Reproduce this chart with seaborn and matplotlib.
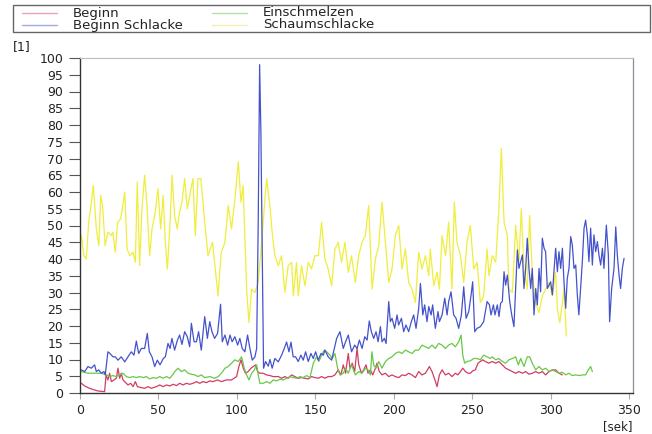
import numpy as np
import pandas as pd
import matplotlib
matplotlib.use("Agg")
import matplotlib.pyplot as plt
import seaborn as sns
from matplotlib.lines import Line2D
from matplotlib.patches import Rectangle

# ---------------- data ----------------
labels = ["Beginn", "Beginn Schlacke", "Einschmelzen", "Schaumschlacke"]

t_beginn = [0.8, 3, 5.1, 7.2, 9.3, 11.5, 15.7, 16.6, 17.8, 18.9, 20, 21.7, 23.2, 24.2, 25.3, 26.3, 27.4, 28.5,
            30.6, 32.3, 33.8, 35.3, 36.6, 39.1, 41.2, 43.4, 45.5, 48.7, 50.8, 53, 55.1, 57.2, 59.4, 61.5, 63.5,
            65.7, 67.8, 69.9, 72.1, 74.2, 76.3, 78.4, 80.6, 82.7, 84.8, 87.6, 90.2, 93.4, 96.6, 99.8, 101.3,
            102.6, 104.1, 105.5, 107.2, 109, 110.4, 112, 113.2, 114.7, 116.8, 118.9, 121.1, 123.2, 126.4, 128.5,
            130.6, 132.7, 134.9, 137, 139.1, 141.2, 143.4, 145.5, 147.6, 149.7, 151.9, 154, 156.1, 158.2, 160.4,
            162.5, 164.6, 166.3, 167.8, 169.3, 171, 172.1, 173.5, 175.1, 176.6, 177.7, 179.4, 180.8, 182.3, 183.6,
            185.1, 186.6, 188.3, 189.3, 190.8, 192.5, 194.6, 196.8, 198.9, 201, 203.2, 205.3, 207.4, 209.5, 211.6,
            213.8, 215.9, 218, 220.2, 222.7, 224.4, 225.9, 227.6, 229.1, 230.8, 232.9, 235, 237.1, 239.3, 240.9,
            242.5, 244, 245.7, 247.4, 248.8, 250.3, 252, 253.7, 255.2, 256.7, 258.4, 260.5, 262.8, 265, 267, 269.2,
            271.3, 273.4, 275.6, 277.7, 279.8, 282, 284.1, 286.2, 288.3, 290.5, 292.6, 294.7, 296.8, 299, 301.1,
            303.2, 305.3, 307.5]
v_beginn = [2.9, 2.1, 1.6, 1.2, 0.9, 0.6, 0.4, 5.4, 3.9, 5.9, 3.4, 3.9, 4.4, 7.4, 4.4, 5.9, 3.9, 3.4,
            2.4, 2.9, 1.9, 3.4, 1.9, 1.6, 1.4, 1.9, 1.4, 1.9, 2.4, 1.9, 2.4, 2.1, 2.6, 2.2, 2.9,
            2.4, 2.9, 2.6, 2.9, 3.4, 2.9, 3.4, 3.1, 3.6, 3.4, 3.9, 3.4, 3.9, 3.9, 4.9, 7.9,
            9.9, 7.4, 5.9, 6.4, 7.4, 7.9, 8.4, 6.4, 5.9, 5.9, 5.4, 5.2, 4.9, 4.9, 4.4,
            4.9, 4.4, 5.4, 4.9, 4.4, 4.6, 4.4, 4.2, 4.9, 4.6, 4.4, 4.9, 4.4, 4.9, 4.9,
            5.4, 6.9, 5.4, 8.4, 5.9, 11.8, 7.4, 8.9, 6.4, 13.3, 8.4, 5.9, 6.9, 8.4, 5.9,
            6.9, 5.4, 7.4, 8.9, 6.4, 5.4, 5.9, 4.9, 5.4, 4.9, 4.6, 5.4, 5.2, 5.9, 5.4,
            4.6, 6.4, 5.4, 5.9, 7.9, 6.4, 4.4, 1.9, 5.4, 6.9, 5.4, 5.9, 4.9, 5.9, 5.4,
            6.4, 7.4, 6.4, 5.9, 5.9, 6.6, 6.9, 8.9, 9.4, 9.9, 9.4, 8.9, 9.4, 8.9, 9.4, 8.4,
            7.4, 6.9, 6.4, 5.9, 6.4, 5.9, 6.4, 5.6, 5.9, 6.4, 5.9, 6.4, 5.4, 6.4, 6.9,
            6.9, 5.9, 5.4]

t_schlacke = [0.8, 3.0, 5.1, 7.2, 9.3, 10.4, 11.9, 13.6, 15.3, 16.1, 17.8, 19.1, 21, 22.5, 24.2, 26.3, 28.5,
              30.6, 32.7, 34.4, 35.9, 37.4, 39.1, 41.2, 42.9, 44.2, 45.9, 47.6, 49.3, 51, 53.1, 54.4, 56.1,
              57.4, 58.6, 60.3, 62.1, 63.5, 65, 66.7, 68.4, 69.9, 71, 72.7, 74.2, 75.6, 77.3, 79.5, 81.2, 82.7,
              84.1, 85.8, 87.7, 89.6, 90.7, 92.4, 94.1, 95.6, 97, 98.7, 100.5, 101.9, 103.4, 105.1, 106.8,
              108.3, 109.8, 111.5, 112.6, 113.6, 114.5, 115.3, 116.4, 117, 118.3, 120, 121.1, 122.5, 124.2,
              126.4, 128.5, 130.2, 131.7, 133.2, 134.5, 135.9, 137.4, 139.1, 140.8, 142.3, 143.8, 145.5, 147.2,
              148.7, 150.2, 151.9, 153.6, 155.1, 156.1, 158.2, 160.4, 162.1, 163.6, 165.7, 167.8, 169.3, 171,
              173.1, 175.1, 176.6, 178.1, 179.8, 181.5, 183, 184.4, 185.7, 187.2, 188.7, 190, 191.5, 192.5,
              194, 195.1, 196.8, 197.8, 198.9, 200.6, 202.1, 203.1, 204.9, 206.3, 207.8, 209.5, 211.2, 212.7,
              214.2, 215.9, 217, 218.5, 219.7, 221.2, 222.3, 223.8, 224.8, 226.5, 228.2, 229.1, 230.8, 232.5,
              234, 235, 236.5, 238.2, 239.7, 241.4, 243.1, 244.6, 246.1, 247.8, 249.3, 250.3, 251.6, 253.1,
              255.2, 257.3, 259.5, 261, 262, 263.5, 264.5, 266, 267.1, 268.1, 269.2, 270.3, 271.3, 272.4,
              273.9, 275.2, 276.6, 277.7, 278.8, 279.8, 280.9, 282, 283, 284.1, 285.1, 286.2, 287.3, 288.3,
              289.4, 290.5, 291.5, 292.6, 293.6, 294.7, 295.8, 296.8, 297.9, 299, 300, 301.1, 302.1, 303.2,
              304.3, 305.3, 306.4, 307.5, 308.5, 309.6, 310.6, 311.7, 312.8, 313.8, 314.9, 316, 317, 318,
              319.1, 320.2, 321.3, 322.3, 323.4, 324.4, 325.5, 326.6, 327.6, 328.7, 329.8, 330.8, 331.9, 333,
              334, 335.5, 336.8, 337.6, 338.9, 340.4, 341.5, 342.5, 343.6, 344.6, 345.7, 346.8]
v_schlacke = [6.9, 6.4, 7.9, 7.4, 8.4, 6.4, 6.9, 5.9, 6.4, 5.4, 12.3, 11.8, 10.8, 10.8, 9.8, 10.8, 9.3,
              10.8, 12.3, 11.3, 15.5, 11.8, 13.3, 13.3, 17.8, 12.3, 10.8, 7.9, 9.8, 8.4, 10.3, 10.8, 14.8,
              13.3, 16.3, 12.8, 15.8, 17.3, 14.5, 18.3, 16.8, 13.8, 20.8, 15.3, 15.3, 18.3, 12.8, 22.8, 16.3, 21.3,
              18.3, 16.3, 17.8, 26.5, 15.3, 17.3, 14.3, 17.3, 15.3, 16.8, 14.3, 16.3, 13.3, 12.3, 17.3,
              13.3, 9.8, 10.8, 13.3, 51, 98, 78, 31, 7.4, 9.4, 8, 10, 7.4, 10.3,
              9.3, 11.3, 13.3, 15.2, 12.3, 15.2, 10.8, 10.8, 9.4, 11.3, 9.8, 12.3, 9.4, 11.8,
              10.3, 12.3, 9.8, 11.8, 11.3, 12.8, 10.8, 9.8, 13.3, 16.3, 18.3, 13.3, 15.3, 17.3,
              12.3, 14.3, 13.3, 15.8, 13.3, 16.8, 15.8, 21.5, 18.3, 16.3, 18.3, 15.3, 19.8, 15.3,
              16.3, 14.8, 27.3, 21.3, 22.3, 19.3, 23.3, 20.3, 22.3, 18.3, 20.3, 18.3, 21.3, 23.3,
              19.3, 25.3, 32.7, 23.3, 26.3, 21.3, 25.8, 23.3, 26.3, 19.3, 24.3, 21.3, 23.3, 28.3,
              23.3, 27.3, 30.2, 23.3, 22.3, 19.3, 23.3, 31.7, 22.3, 24.3, 29.3, 33.2, 18.3, 19.3,
              19.8, 21.3, 27.3, 26.3, 23.3, 26.3, 23.3, 26.3, 22.8, 26.8, 27.3, 36.2, 32.2, 35.2,
              27.3, 23.3, 19.8, 31.2, 42.7, 37.2, 39.2, 41.2, 31.2, 37.2, 46.2, 37.2, 31.2, 37.2,
              23.3, 31.2, 26.3, 37.2, 30.2, 46.2, 43.2, 42.2, 31.2, 32.2, 33.2, 29.3, 36.2, 43.2,
              36.2, 42.2, 37.2, 43.2, 33.2, 25.3, 34.2, 37.2, 46.7, 44.2, 37.2, 38.2, 29.3, 23.3,
              31.2, 39.2, 49.2, 51.6, 47.2, 39.2, 49.2, 38.2, 47.2, 42.2, 45.2, 41.2, 38.2, 43.2,
              37.2, 50.1, 41.2, 21.3, 31.2, 37.2, 49.6, 41.2, 35.2, 31.2, 37.2, 40.2]

t_einschm = [0.8, 5.1, 9.3, 13.6, 16.8, 19, 21, 23.2, 25.3, 27.4, 29.5, 31.7, 33.8, 35.9, 38, 40.2, 42.3, 44.4,
             46.6, 48.7, 50.8, 53, 55.1, 57.2, 59.4, 60.4, 62.5, 64.6, 66.7, 68.9, 71, 73.1, 75.2, 77.3, 79.5,
             82.7, 85.8, 88.1, 90.2, 92.4, 94.5, 96.6, 98.7, 100.9, 103, 104.7, 106.2, 107.7, 109.4, 111.1,
             112.6, 113.6, 114.7, 116.8, 118.9, 121.1, 123.2, 125.3, 127.4, 129.6, 131.7, 133.8, 135.9, 138.1,
             140.2, 142.3, 144.4, 146.6, 148.7, 150.8, 152.3, 154, 155.7, 157.2, 159.3, 160.8, 162.5, 164.2,
             165.7, 167.8, 169.3, 171, 173.1, 175.5, 177.6, 179.8, 181.9, 183.6, 185.1, 186.1, 187.2, 188.7,
             190.4, 192.5, 194.7, 196.8, 198.9, 201, 203.2, 205.3, 207.4, 209.5, 211.6, 213.8, 215.9, 218,
             220.2, 222.3, 224.4, 226.5, 228.6, 230.8, 232.9, 235, 237.1, 239.3, 241.4, 242.9, 244, 245.2,
             246.7, 248.8, 251, 253.1, 255.2, 257.3, 259.5, 261.6, 262.8, 265, 267, 269.2, 271.3, 273.4, 275.6,
             277.7, 279.4, 280.9, 283, 285.1, 286.6, 288.3, 290.5, 292.6, 294.7, 296.8, 299, 301.1, 303.2,
             305.3, 307.5, 309.6, 311.7, 313.8, 316, 318.1, 320.2, 322.3, 324, 325.5, 326.6]
v_einschm = [6.4, 5.9, 5.9, 5.9, 5.4, 4.9, 5.2, 4.9, 5.4, 5.9, 4.9, 4.6, 4.9, 4.6, 4.9, 4.6, 4.9, 4.2,
             4.6, 4.4, 4.9, 4.4, 4.9, 4.4, 5.6, 6.4, 7.4, 6.4, 6.9, 5.9, 5.6, 5.4, 4.9, 5.4, 4.6,
             4.9, 4.4, 4.9, 5.9, 7.4, 7.9, 8.9, 9.9, 9.4, 10.8, 7.4, 5.4, 3.9, 5.9, 6.9,
             8.4, 5.4, 2.9, 2.9, 3.4, 2.9, 3.9, 3.6, 4.1, 3.9, 4.4, 4.9, 4.6, 4.4,
             4.9, 4.6, 5.2, 4.6, 8.9, 10.8, 9.4, 11.3, 12.8, 12.3, 11.3, 10.3, 11.8, 7.4,
             5.4, 5.9, 7.4, 5.9, 8.4, 5.4, 6.4, 5.9, 7.4, 6.9, 5.4, 12.3, 8.4, 7.4,
             9.4, 7.4, 9.4, 10.3, 10.8, 11.8, 12.3, 11.8, 12.8, 12.3, 11.8, 12.8, 12.8, 14.3,
             13.8, 13.3, 14.3, 13.3, 14.8, 14.3, 13.3, 14.3, 14.8, 13.8, 15.3, 17.3, 11.3, 8.9,
             9.4, 9.6, 10.3, 10.3, 9.9, 11.3, 10.8, 10.3, 10.8, 9.9, 10.3, 9.4, 8.9, 9.9, 10.3,
             10.8, 8.4, 10.3, 7.9, 10.8, 10.8, 8.9, 6.9, 7.9, 6.9, 7.4, 6.4, 6.9, 6.4,
             5.9, 6.2, 5.4, 5.9, 5.2, 5.4, 5.2, 5.4, 5.4, 6.9, 7.9, 6.4]

t_schaum = [0, 0.9, 2.5, 4, 5.7, 6.8, 8.5, 10.4, 12, 13.2, 14.4, 16, 17.8, 20, 21, 22.5, 24, 26, 28.5, 30, 31.7,
            33.8, 35.3, 36.5, 38, 39.5, 41.2, 42.7, 44.4, 45.9, 48, 49.7, 51.4, 53, 54.4, 55.7, 57.2, 58.7, 60.3,
            62, 63.5, 65, 66.7, 68.4, 70, 72, 73.5, 75.2, 77, 78, 79.5, 81.6, 84.5, 86, 88, 90, 92.4, 94.5, 96.6,
            98.8, 100.9, 102.6, 104, 106.2, 107.7, 109.4, 111.5, 113.6, 115.8, 117.9, 119, 121, 122.5, 124.2,
            126.4, 128.5, 130.6, 132.7, 134.9, 136, 138, 139.1, 141.2, 143.4, 145.5, 147.6, 149.7, 151.9, 154,
            156.1, 158.2, 160.4, 162.5, 164.6, 166.7, 168.9, 171, 173.1, 175.5, 177.6, 179.8, 181.9, 184, 186.2,
            188.3, 190.4, 192.5, 194.7, 196.8, 198.9, 201, 203.2, 205.3, 207.4, 209.5, 211.6, 213.8, 215.9, 218,
            220.2, 222.3, 223.3, 225.5, 227.6, 229.1, 230.8, 233, 235, 237.1, 238.6, 240.3, 242.5, 244.6, 246.7,
            248.8, 251, 253.1, 255.2, 257.3, 259.5, 260.7, 262.8, 265, 267, 268.6, 270.3, 272.4, 273.4, 275.6,
            277.7, 279.8, 281.3, 283, 285.1, 286.6, 288.3, 290.5, 292.6, 294.7, 296.8, 299, 301.1, 303.2, 304.3,
            305.8, 307.5, 308.5, 310]
v_schaum = [44, 47, 41, 40, 52, 55, 62, 49, 44, 59, 56, 44, 48, 47, 48, 42, 51, 52, 60, 43, 41,
            42, 39, 63, 38, 55, 65, 56, 41, 49, 54, 61, 49, 59, 45, 37, 49, 65, 53,
            49, 54, 57, 64, 55, 59, 64, 47, 64, 64, 59, 51, 41, 45, 38, 29, 42, 45, 56, 49,
            58, 69, 57, 62, 31, 21, 31, 30, 33, 45, 58, 64, 56, 48, 41,
            38, 41, 30, 38, 39, 29, 39, 29, 38, 32, 39, 37, 41, 41, 51,
            40, 37, 32, 43, 45, 39, 45, 36, 41, 33, 41, 45, 47, 56, 31,
            40, 44, 57, 45, 33, 37, 47, 50, 37, 43, 33, 31, 27, 42, 37,
            41, 35, 43, 32, 36, 31, 47, 41, 51, 31, 57, 45, 41, 33, 45,
            50, 37, 39, 27, 29, 43, 35, 41, 39, 55, 73, 51, 47, 31, 30,
            50, 39, 55, 37, 31, 53, 36, 27, 24, 29, 31, 33, 29, 36, 25,
            21, 27, 31, 17]

x_ticks = [0, 50, 100, 150, 200, 250, 300, 350]
y_ticks = list(range(0, 101, 5))

# ---------------- styling ----------------
sns.set_style("white")
plt.rcParams['font.family'] = ['DejaVu Sans']

line_colors = ["#d23c62", "#4452cc", "#68c848", "#f0ee3c"]
legend_colors = ["#eaa4b4", "#a4aae2", "#b4e2a4", "#f6f0b0"]

W, H = 652, 434
fig = plt.figure(figsize=(W / 100, H / 100), dpi=100)
fig.patch.set_facecolor("white")
ax = fig.add_axes([80 / W, 1 - 393 / H, 553 / W, 335 / H])

series = [(t_beginn, v_beginn), (t_schlacke, v_schlacke), (t_einschm, v_einschm), (t_schaum, v_schaum)]
order = [3, 0, 2, 1]  # drawing order: yellow bottom, blue on top
for i in order:
    t, v = series[i]
    df = pd.DataFrame({"t": t, "v": v})
    sns.lineplot(data=df, x="t", y="v", ax=ax, color=line_colors[i], linewidth=0.9,
                 estimator=None, sort=False)

ax.set_xlim(0, 352.5)
ax.set_ylim(0, 100)
ax.set_xticks(x_ticks)
ax.set_yticks(y_ticks)
ax.set_xlabel("")
ax.set_ylabel("")
ax.tick_params(axis="y", direction="out", length=8, width=0.8, color="#555555",
               labelsize=9, labelcolor="#222222", pad=4, left=True)
ax.tick_params(axis="x", direction="out", length=4, width=0.8, color="#aaaaaa",
               labelsize=9, labelcolor="#222222", pad=4, bottom=True)
for s in ["left", "bottom"]:
    ax.spines[s].set_color("#333333")
    ax.spines[s].set_linewidth(1.0)
ax.spines["top"].set_color("#bbbbbb")
ax.spines["right"].set_color("#8a8f99")
ax.spines["top"].set_linewidth(0.8)
ax.spines["right"].set_linewidth(0.9)

# unit labels
fig.text(13 / W, 1 - 47 / H, "[1]", fontsize=9, color="#222222", ha="left", va="center")
fig.text(632 / W, 1 - 427 / H, "[sek]", fontsize=8.5, color="#222222", ha="right", va="center")

# legend box (above the plot)
fig.add_artist(Rectangle((13 / W, 1 - 32 / H), (650 - 13) / W, 27 / H, transform=fig.transFigure,
                         facecolor="white", edgecolor="#666666", linewidth=1.0))
pos = [(22, 13), (22, 25), (212, 13), (212, 25)]
for (px, py), lab, c in zip(pos, labels, legend_colors):
    fig.add_artist(Line2D([px / W, (px + 35) / W], [1 - py / H, 1 - py / H], transform=fig.transFigure,
                          color=c, linewidth=1.0))
    fig.text((px + 51) / W, 1 - py / H, lab, fontsize=9.5, color="#222222", ha="left", va="center")

fig.savefig("out.png", dpi=100)
